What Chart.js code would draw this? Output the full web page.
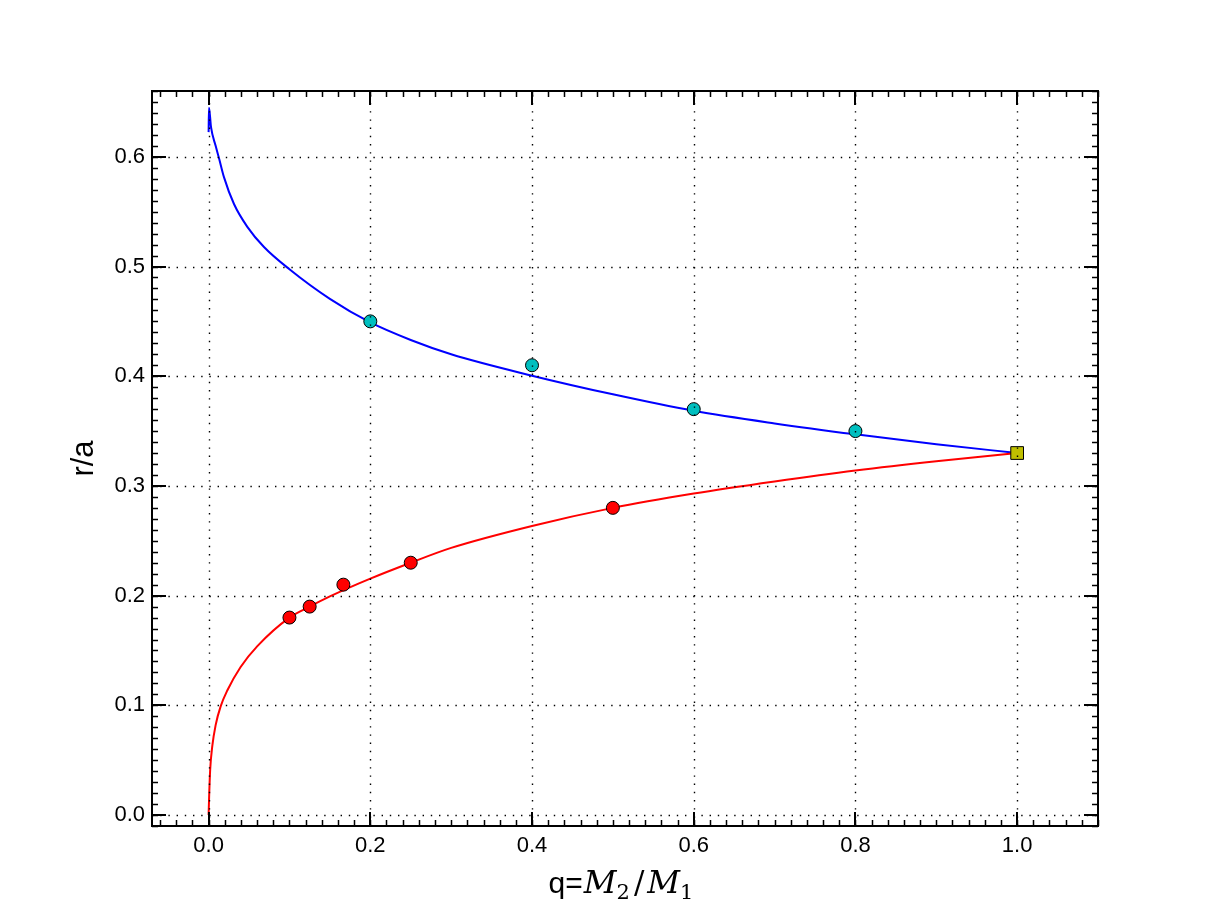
<!DOCTYPE html>
<html><head><meta charset="utf-8">
<script src="https://cdn.jsdelivr.net/npm/chart.js@4/dist/chart.umd.min.js"></script>
<style>html,body{margin:0;padding:0;background:#fff;overflow:hidden;}</style>
</head><body>
<canvas id="c" width="1219" height="919"></canvas>
<script>
// ---- data ----
const blueQ = [0, 0.0005, 0.003, 0.0087, 0.0128, 0.019, 0.0314, 0.0479, 0.0685, 0.1, 0.15, 0.2, 0.25, 0.3, 0.4, 0.5, 0.6, 0.7, 0.8, 0.9, 1.0];
const blueR = [0.6225, 0.6448, 0.627, 0.610, 0.599, 0.5815, 0.557, 0.5362, 0.5178, 0.4975, 0.4705, 0.449, 0.433, 0.420, 0.4005, 0.3835, 0.3685, 0.357, 0.347, 0.338, 0.330];
const redQ = [0, 0.0008, 0.002, 0.0046, 0.0087, 0.0149, 0.0231, 0.0396, 0.0603, 0.1, 0.125, 0.15, 0.2, 0.25, 0.3, 0.4, 0.5, 0.6, 0.7, 0.8, 0.9, 1.0];
const redR = [0, 0.020, 0.042, 0.063, 0.082, 0.099, 0.1135, 0.135, 0.154, 0.180, 0.190, 0.1993, 0.2155, 0.230, 0.2435, 0.2635, 0.280, 0.293, 0.304, 0.314, 0.3225, 0.330];
const cyanQ = [0.2, 0.4, 0.6, 0.8];
const cyanR = [0.45, 0.41, 0.37, 0.35];
const redPtQ = [0.1, 0.125, 0.1667, 0.25, 0.5];
const redPtR = [0.18, 0.19, 0.21, 0.23, 0.28];
const squareQ = [1.0];
const squareR = [0.33];
const xTicks = [0.0, 0.2, 0.4, 0.6, 0.8, 1.0];
const yTicks = [0.0, 0.1, 0.2, 0.3, 0.4, 0.5, 0.6];
const xMinorStep = 0.02;
const yMinorStep = 0.01;
const xLabelParts = ["q=", "M", "2", "/", "M", "1"];
const yLabel = "r/a";

const pts = (xs, ys) => xs.map((v, i) => ({x: v, y: ys[i]}));

const FONT = "'Liberation Sans', Arial, sans-serif";

const framePlugin = {
  id: 'frame',
  afterDatasetsDraw(chart) {
    const {ctx, chartArea: a, scales: {x, y}} = chart;
    ctx.save();
    // dotted grid (drawn above data as in the reference)
    ctx.strokeStyle = '#000';
    ctx.lineWidth = 1.4;
    ctx.setLineDash([1.4, 6.8]);
    xTicks.forEach(v => {
      const px = Math.round(x.getPixelForValue(v)) + 0.5;
      ctx.beginPath(); ctx.moveTo(px, a.bottom); ctx.lineTo(px, a.top); ctx.stroke();
    });
    yTicks.forEach(v => {
      const py = Math.round(y.getPixelForValue(v)) + 0.5;
      ctx.beginPath(); ctx.moveTo(a.left, py); ctx.lineTo(a.right, py); ctx.stroke();
    });
    ctx.setLineDash([]);
    // minor ticks
    ctx.lineWidth = 1.5;
    const xmin = x.min, xmax = x.max, ymin = y.min, ymax = y.max;
    for (let k = Math.ceil(xmin / xMinorStep); k * xMinorStep <= xmax + 1e-9; k++) {
      const v = k * xMinorStep;
      const px = Math.round(x.getPixelForValue(v)) + 0.5;
      ctx.beginPath();
      ctx.moveTo(px, a.bottom); ctx.lineTo(px, a.bottom - 6);
      ctx.moveTo(px, a.top); ctx.lineTo(px, a.top + 6);
      ctx.stroke();
    }
    for (let k = Math.ceil(ymin / yMinorStep); k * yMinorStep <= ymax + 1e-9; k++) {
      const v = k * yMinorStep;
      const py = Math.round(y.getPixelForValue(v)) + 0.5;
      ctx.beginPath();
      ctx.moveTo(a.left, py); ctx.lineTo(a.left + 6, py);
      ctx.moveTo(a.right, py); ctx.lineTo(a.right - 6, py);
      ctx.stroke();
    }
    // major ticks
    ctx.lineWidth = 2;
    xTicks.forEach(v => {
      const px = Math.round(x.getPixelForValue(v));
      ctx.beginPath();
      ctx.moveTo(px, a.bottom); ctx.lineTo(px, a.bottom - 14);
      ctx.moveTo(px, a.top); ctx.lineTo(px, a.top + 14);
      ctx.stroke();
    });
    yTicks.forEach(v => {
      const py = Math.round(y.getPixelForValue(v));
      ctx.beginPath();
      ctx.moveTo(a.left, py); ctx.lineTo(a.left + 14, py);
      ctx.moveTo(a.right, py); ctx.lineTo(a.right - 14, py);
      ctx.stroke();
    });
    // frame
    ctx.lineWidth = 2;
    ctx.strokeRect(a.left, a.top, a.right - a.left, a.bottom - a.top);
    ctx.restore();
  },
  afterDraw(chart) {
    const {ctx, chartArea: a} = chart;
    ctx.save();
    ctx.fillStyle = '#000';
    ctx.textBaseline = 'alphabetic';
    const parts = [
      {t: xLabelParts[0], f: "30px " + FONT, dy: 0, gap: 1},
      {t: xLabelParts[1], f: "italic 32px 'DejaVu Serif', 'Liberation Serif', serif", dy: 0, gap: 0},
      {t: xLabelParts[2], f: "21px 'DejaVu Serif', 'Liberation Serif', serif", dy: 6, gap: 4},
      {t: xLabelParts[3], f: "31px 'DejaVu Serif', 'Liberation Serif', serif", dy: 0, gap: 3},
      {t: xLabelParts[4], f: "italic 32px 'DejaVu Serif', 'Liberation Serif', serif", dy: 0, gap: 0},
      {t: xLabelParts[5], f: "21px 'DejaVu Serif', 'Liberation Serif', serif", dy: 6, gap: 0}
    ];
    let total = 0;
    parts.forEach(p => { ctx.font = p.f; p.w = ctx.measureText(p.t).width; total += p.w + p.gap; });
    let cx = (a.left + a.right) / 2 - total / 2 - 4;
    const base = 893;
    parts.forEach(p => { ctx.font = p.f; ctx.fillText(p.t, cx, base + p.dy); cx += p.w + p.gap; });
    ctx.restore();
  }
};

new Chart(document.getElementById('c'), {
  type: 'scatter',
  data: {
    datasets: [
      {data: pts(squareQ, squareR), pointStyle: 'rect', pointRadius: 9, pointHoverRadius: 9,
       backgroundColor: '#BFBF00', borderColor: '#000', borderWidth: 1, order: 0},
      {data: pts(cyanQ, cyanR), pointRadius: 6.5, pointHoverRadius: 6.5,
       backgroundColor: '#00BFBF', borderColor: '#000', borderWidth: 1, order: 0},
      {data: pts(redPtQ, redPtR), pointRadius: 6.5, pointHoverRadius: 6.5,
       backgroundColor: '#FF0000', borderColor: '#000', borderWidth: 1, order: 0},
      {data: pts(blueQ, blueR), showLine: true, pointRadius: 0, borderColor: '#0000FF', borderWidth: 2,
       cubicInterpolationMode: 'monotone', fill: false, order: 2},
      {data: pts(redQ, redR), showLine: true, pointRadius: 0, borderColor: '#FF0000', borderWidth: 2,
       cubicInterpolationMode: 'monotone', fill: false, order: 1}
    ]
  },
  options: {
    responsive: false,
    animation: false,
    devicePixelRatio: 1,
    layout: {padding: {left: 0, top: 91, right: 121, bottom: 0}},
    plugins: {legend: {display: false}, tooltip: {enabled: false}, title: {display: false}},
    scales: {
      x: {
        type: 'linear', min: -0.07, max: 1.1,
        afterBuildTicks: s => { s.ticks = xTicks.map(v => ({value: v})); },
        afterFit: s => { s.height = 93; },
        grid: {display: false, drawTicks: false, tickLength: 0},
        border: {display: false},
        ticks: {autoSkip: false, maxRotation: 0, padding: 7, color: '#000',
                font: {family: FONT, size: 22}, callback: v => Number(v).toFixed(1)}
      },
      y: {
        type: 'linear', min: -0.01, max: 0.66,
        afterBuildTicks: s => { s.ticks = yTicks.map(v => ({value: v})); },
        afterFit: s => { s.width = 152; },
        grid: {display: false, drawTicks: false, tickLength: 0},
        border: {display: false},
        ticks: {autoSkip: false, padding: 7, color: '#000',
                font: {family: FONT, size: 22}, callback: v => Number(v).toFixed(1)},
        title: {display: true, text: yLabel, color: '#000', font: {family: FONT, size: 31},
                padding: {top: 66, bottom: 0}}
      }
    }
  },
  plugins: [framePlugin]
});
</script>
</body></html>
